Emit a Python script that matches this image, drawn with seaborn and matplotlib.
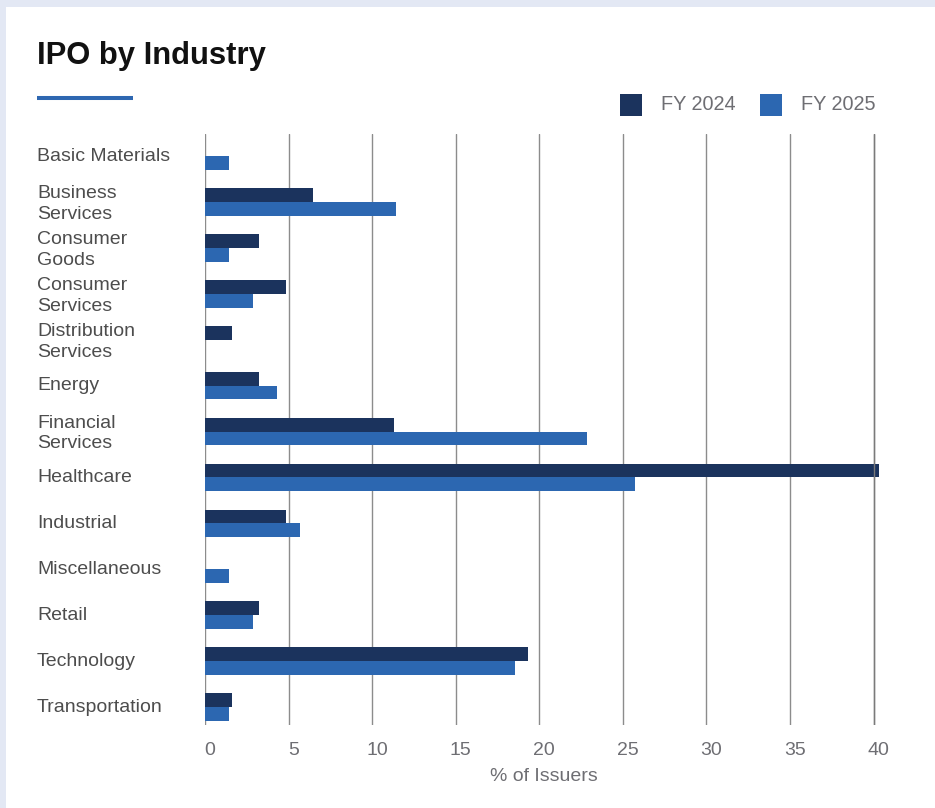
import matplotlib
matplotlib.use("Agg")
import matplotlib.pyplot as plt
from matplotlib.patches import Rectangle
from matplotlib.lines import Line2D
from matplotlib.transforms import ScaledTranslation
import pandas as pd
import seaborn as sns

# Share of IPO issuers by industry (%)
industries = [
    "Basic Materials",
    "Business\nServices",
    "Consumer\nGoods",
    "Consumer\nServices",
    "Distribution\nServices",
    "Energy",
    "Financial\nServices",
    "Healthcare",
    "Industrial",
    "Miscellaneous",
    "Retail",
    "Technology",
    "Transportation",
]
fy2024 = [0, 6.45, 3.23, 4.84, 1.61, 3.23, 11.29, 40.32, 4.84, 0, 3.23, 19.35, 1.61]
fy2025 = [1.43, 11.43, 1.43, 2.86, 0, 4.29, 22.86, 25.71, 5.71, 1.43, 2.86, 18.57, 1.43]
series_names = ["FY 2024", "FY 2025"]
series_colors = ["#1b335d", "#2c67b1"]
x_ticks = [0, 5, 10, 15, 20, 25, 30, 35, 40]

df = pd.DataFrame({
    "Industry": industries * 2,
    "Year": [series_names[0]] * len(industries) + [series_names[1]] * len(industries),
    "Share": fy2024 + fy2025,
})

sns.set_theme(style="white")
plt.rcParams["font.family"] = ["Liberation Sans", "DejaVu Sans"]

W, H = 935, 808
fig = plt.figure(figsize=(W / 100, H / 100), dpi=100)
fig.patch.set_facecolor("#e3e8f4")


def fx(px):
    return px / W


def fy(py):
    return 1 - py / H


# white card behind everything
fig.patches.append(Rectangle((fx(6), 0), 1 - fx(6), fy(7), transform=fig.transFigure,
                             facecolor="white", edgecolor="none", zorder=-5))

ax = fig.add_axes([fx(205), fy(725), fx(882) - fx(205), fy(134) - fy(725)])
ax.set_facecolor("none")
sns.barplot(data=df, y="Industry", x="Share", hue="Year", palette=series_colors,
            width=0.6, orient="h", saturation=1, legend=False, ax=ax,
            edgecolor="none", linewidth=0)

ax.set_xlim(0, 40.5)
ax.set_ylim(12.39, -0.48)
ax.set_xticks(x_ticks)
ax.set_axisbelow(True)
ax.grid(axis="x", color="#8c8c8c", lw=1.0)
ax.grid(axis="y", visible=False)
ax.axvline(x_ticks[-1], color="#7a7a7a", lw=1.0, zorder=3)
for s in ax.spines.values():
    s.set_visible(False)

ax.tick_params(axis="y", length=0, pad=121, labelsize=14, labelcolor="#4d4d4d")
lift = ScaledTranslation(0, 2 / 100, fig.dpi_scale_trans)
for lbl in ax.get_yticklabels():
    lbl.set_horizontalalignment("left")
    lbl.set_multialignment("left")
    lbl.set_linespacing(1.3)
    lbl.set_transform(lbl.get_transform() + lift)

ax.tick_params(axis="x", length=0, pad=12, labelsize=14, labelcolor="#6e6e73")
shift = ScaledTranslation(5 / 100, 0, fig.dpi_scale_trans)
for lbl in ax.get_xticklabels():
    lbl.set_transform(lbl.get_transform() + shift)

ax.set_ylabel("")
ax.set_xlabel("% of Issuers", fontsize=14, color="#6e6e73", labelpad=7)

# title and accent rule
fig.text(fx(37), fy(64), "IPO by Industry", fontsize=22.3, fontweight="bold",
         color="#111111", va="baseline")
fig.add_artist(Line2D([fx(37), fx(133)], [fy(98), fy(98)], color="#2e67b1", lw=2.9,
                      solid_capstyle="butt"))

# legend
for x0, name, col in zip([620, 760], series_names, series_colors):
    fig.patches.append(Rectangle((fx(x0), fy(116)), 22 / W, 22 / H, transform=fig.transFigure,
                                 facecolor=col, edgecolor="none"))
    fig.text(fx(x0 + 41), fy(105), name, fontsize=14.3, color="#6e6e73", va="center")

fig.savefig("out.png", dpi=100, facecolor=fig.get_facecolor())
